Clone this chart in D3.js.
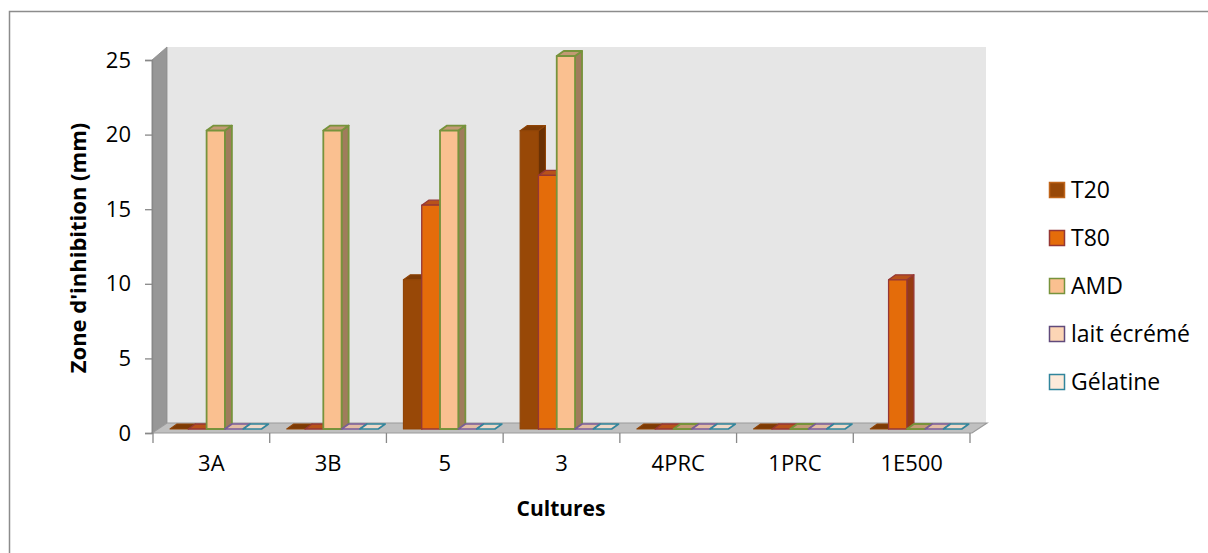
<!DOCTYPE html>
<html>
<head>
<meta charset="utf-8">
<script src="https://cdn.jsdelivr.net/npm/d3@7"></script>
<style>
  html, body { margin: 0; padding: 0; background: #fff; }
  svg { display: block; }
  text { font-family: "Open Sans", Lato, sans-serif; fill: #000; }
</style>
</head>
<body>
<svg id="chart" width="1208" height="553"></svg>
<script>
// Inhibition zone (mm) per culture and medium
const categories = ["3A", "3B", "5", "3", "4PRC", "1PRC", "1E500"];
const seriesNames = ["T20", "T80", "AMD", "lait écrémé", "Gélatine"];
const t20 = [0, 0, 10, 20, 0, 0, 0];
const t80 = [0, 0, 15, 17, 0, 0, 10];
const amd = [20, 20, 20, 25, 0, 0, 0];
const laitEcreme = [0, 0, 0, 0, 0, 0, 0];
const gelatine = [0, 0, 0, 0, 0, 0, 0];
const yTicks = [0, 5, 10, 15, 20, 25];

const seriesValues = [t20, t80, amd, laitEcreme, gelatine];

// face colours of each series: front, top, side, edge
const palette = [
  { front: "#984807", top: "#7d3b05", side: "#6a3104", edge: "#8f4407", swatchEdge: "#c0651a", sw: 1.1 },
  { front: "#e46c0a", top: "#b8521a", side: "#963b12", edge: "#953735", swatchEdge: "#953735", sw: 1.3 },
  { front: "#fac090", top: "#c39a74", side: "#a07c5c", edge: "#77933c", swatchEdge: "#77933c", sw: 1.8 },
  { front: "#fcd5b5", top: "#e3bda4", side: "#b89a86", edge: "#7a5c99", swatchEdge: "#604a7b", sw: 1.6 },
  { front: "#fdeada", top: "#efd9c9", side: "#c8b4a6", edge: "#31859c", swatchEdge: "#31859c", sw: 1.6 }
];

const fontSize = "22px";
const svg = d3.select("#chart");

// outer chart border
svg.append("rect")
  .attr("x", 9.5).attr("y", 11.5)
  .attr("width", 1240).attr("height", 600)
  .attr("fill", "#fff").attr("stroke", "#8c8c8c").attr("stroke-width", 1.5);

// front plane geometry
const plot = { left: 153, right: 970, bottom: 433, top: 60 };
const depth = { dx: 15, dy: -10 };       // floor / wall depth offset
const barDepth = { dx: 7, dy: -5 };       // depth of each column
const barShift = -4;                      // columns stand slightly behind the front plane

const x = d3.scaleBand().domain(categories).range([plot.left, plot.right]);
const y = d3.scaleLinear().domain([0, 25]).range([plot.bottom, plot.top]);
const xs = d3.scaleBand().domain(d3.range(seriesNames.length))
  .range([17, 17 + 18.3 * seriesNames.length]);

// back wall
svg.append("rect")
  .attr("x", plot.left - 1 + depth.dx).attr("y", 47)
  .attr("width", plot.right + 2 - plot.left)
  .attr("height", plot.bottom + depth.dy - 47)
  .attr("fill", "#e6e6e6");

// left side wall
svg.append("polygon")
  .attr("points", [
    [plot.left - 1, y(25)],
    [plot.left - 1 + depth.dx, 47],
    [plot.left - 1 + depth.dx, plot.bottom + depth.dy],
    [plot.left - 1, plot.bottom]
  ].map(p => p.join(",")).join(" "))
  .attr("fill", "#979797").attr("stroke", "#8a8a8a").attr("stroke-width", 0.8);

// floor
svg.append("polygon")
  .attr("points", [
    [plot.left - 1, plot.bottom],
    [plot.left - 1 + depth.dx, plot.bottom + depth.dy],
    [plot.right + 2 + depth.dx, plot.bottom + depth.dy],
    [plot.right + 2, plot.bottom]
  ].map(p => p.join(",")).join(" "))
  .attr("fill", "#c0c0c0").attr("stroke", "#9a9a9a").attr("stroke-width", 1.2);

// columns
const poly = pts => pts.map(p => p.join(",")).join(" ");
const bars = svg.append("g");
categories.forEach((c, ci) => {
  seriesValues.forEach((vals, si) => {
    const v = vals[ci];
    const col = palette[si];
    const x0 = x(c) + xs(si);
    const x1 = x0 + xs.bandwidth();
    const yb = y(0) + barShift;
    const yt = y(v) + barShift;
    const g = bars.append("g")
      .attr("stroke", col.edge).attr("stroke-width", col.sw).attr("stroke-linejoin", "round");
    if (v > 0) {
      g.append("polygon").attr("fill", col.side).attr("points", poly([
        [x1, yt], [x1 + barDepth.dx, yt + barDepth.dy],
        [x1 + barDepth.dx, yb + barDepth.dy], [x1, yb]
      ]));
    }
    g.append("polygon").attr("fill", col.top).attr("points", poly([
      [x0, yt], [x1, yt], [x1 + barDepth.dx, yt + barDepth.dy], [x0 + barDepth.dx, yt + barDepth.dy]
    ]));
    if (v > 0) {
      g.append("rect").attr("fill", col.front)
        .attr("x", x0).attr("y", yt).attr("width", x1 - x0).attr("height", yb - yt);
    }
  });
});

// value axis
const yAxis = svg.append("g")
  .attr("transform", `translate(${plot.left - 1},0)`)
  .call(d3.axisLeft(y).tickValues(yTicks).tickSize(7).tickPadding(14).tickFormat(d3.format("d")));
yAxis.select(".domain").attr("stroke", "#888").attr("stroke-width", 1.3);
yAxis.selectAll(".tick line").attr("stroke", "#888").attr("stroke-width", 1.3);
yAxis.selectAll(".tick text").style("font-size", fontSize).attr("fill", "#000");

// category axis
const xAxis = svg.append("g")
  .attr("transform", `translate(0,${plot.bottom})`)
  .call(d3.axisBottom(x).tickSize(0).tickPadding(22));
xAxis.select(".domain").remove();
xAxis.selectAll(".tick text").style("font-size", fontSize).attr("fill", "#000");
svg.append("g").selectAll("line")
  .data(categories.concat([null]))
  .join("line")
  .attr("x1", (d, i) => plot.left + i * x.step()).attr("x2", (d, i) => plot.left + i * x.step())
  .attr("y1", plot.bottom).attr("y2", plot.bottom + 10)
  .attr("stroke", "#888").attr("stroke-width", 1.3);

// axis titles
svg.append("text")
  .attr("transform", `translate(86,248) rotate(-90)`)
  .attr("text-anchor", "middle")
  .style("font-size", "22px").style("font-weight", "bold")
  .text("Zone d'inhibition (mm)");
svg.append("text")
  .attr("x", 561).attr("y", 516)
  .attr("text-anchor", "middle")
  .style("font-size", "21px").style("font-weight", "bold")
  .text("Cultures");

// legend
const legend = svg.append("g").attr("transform", "translate(1049,0)");
const legendY = d3.scalePoint().domain(seriesNames).range([190, 382]);
seriesNames.forEach((name, i) => {
  const row = legend.append("g").attr("transform", `translate(0,${legendY(name)})`);
  row.append("rect")
    .attr("x", 0.5).attr("y", -7.5).attr("width", 15).attr("height", 15)
    .attr("fill", palette[i].front).attr("stroke", palette[i].swatchEdge).attr("stroke-width", 1.5);
  row.append("text")
    .attr("x", 22).attr("y", 8)
    .style("font-size", "23px")
    .text(name);
});
</script>
</body>
</html>
